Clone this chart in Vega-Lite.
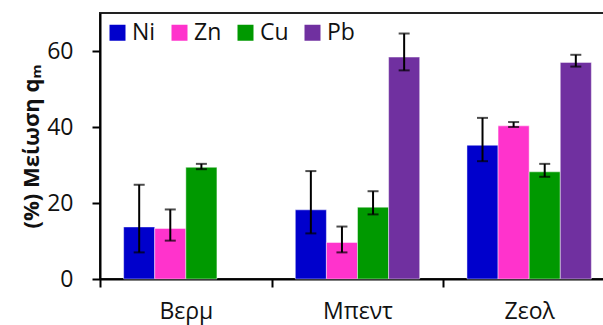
{
  "$schema": "https://vega.github.io/schema/vega-lite/v6.json",
  "width": 515,
  "height": 266,
  "autosize": {"type": "none"},
  "padding": {"left": 100, "top": 13, "right": 0, "bottom": 46},
  "background": "white",
  "config": {
    "font": "Open Sans",
    "view": {"stroke": "#222", "strokeWidth": 2},
    "axis": {"domainColor": "#000", "tickColor": "#000", "labelColor": "#111", "titleColor": "#111", "grid": false}
  },
  "data": {
    "values": [
      {"cat": "Βερμ", "metal": "Ni", "v": 13.7, "lo": 7.0, "hi": 24.8},
      {"cat": "Βερμ", "metal": "Zn", "v": 13.3, "lo": 10.1, "hi": 18.3},
      {"cat": "Βερμ", "metal": "Cu", "v": 29.4, "lo": 28.9, "hi": 30.3},
      {"cat": "Μπεντ", "metal": "Ni", "v": 18.2, "lo": 12.0, "hi": 28.4},
      {"cat": "Μπεντ", "metal": "Zn", "v": 9.6, "lo": 7.0, "hi": 13.8},
      {"cat": "Μπεντ", "metal": "Cu", "v": 18.9, "lo": 17.0, "hi": 23.1},
      {"cat": "Μπεντ", "metal": "Pb", "v": 58.4, "lo": 54.9, "hi": 64.6},
      {"cat": "Ζεολ", "metal": "Ni", "v": 35.2, "lo": 31.0, "hi": 42.4},
      {"cat": "Ζεολ", "metal": "Zn", "v": 40.3, "lo": 40.0, "hi": 41.3},
      {"cat": "Ζεολ", "metal": "Cu", "v": 28.2, "lo": 26.9, "hi": 30.3},
      {"cat": "Ζεολ", "metal": "Pb", "v": 57.0, "lo": 55.9, "hi": 59.0}
    ]
  },
  "encoding": {
    "x": {
      "field": "cat", "type": "nominal", "sort": ["Βερμ", "Μπεντ", "Ζεολ"],
      "scale": {"paddingInner": 0, "paddingOuter": 0},
      "axis": {"title": null, "labelAngle": 0, "labelFontSize": 23, "labelPadding": 13, "tickBand": "extent", "tickSize": 8, "tickWidth": 2, "domainWidth": 2}
    },
    "xOffset": {
      "field": "metal", "type": "nominal",
      "scale": {"domain": ["Ni", "Zn", "Cu", "Pb"], "paddingInner": 0, "paddingOuter": 0.76}
    }
  },
  "layer": [
    {
      "mark": {"type": "bar", "stroke": "white", "strokeOpacity": 0.45, "strokeWidth": 1},
      "encoding": {
        "y": {
          "field": "v", "type": "quantitative",
          "scale": {"domain": [0, 70], "nice": false},
          "axis": {"values": [0, 20, 40, 60], "labelFontSize": 23, "tickSize": 8, "tickWidth": 2, "domainWidth": 2, "labelPadding": 19,
                   "title": "(%) Μείωση qₘ", "titleFontSize": 22, "titleFontWeight": "bold", "titlePadding": 3}
        },
        "color": {
          "field": "metal", "type": "nominal",
          "scale": {"domain": ["Ni", "Zn", "Cu", "Pb"], "range": ["#0000CC", "#FF33CC", "#009900", "#7030A0"]},
          "legend": {"title": null, "orient": "none", "legendX": 6, "legendY": 8, "direction": "horizontal",
                     "symbolType": "square", "symbolSize": 256, "symbolStrokeWidth": 0, "labelFontSize": 23, "labelColor": "#111",
                     "labelOffset": 3, "columnPadding": 12}
        }
      }
    },
    {
      "mark": {"type": "rule", "color": "#000", "strokeWidth": 2},
      "encoding": {"y": {"field": "lo", "type": "quantitative"}, "y2": {"field": "hi"}}
    },
    {
      "mark": {"type": "tick", "color": "#000", "thickness": 2, "size": 11},
      "encoding": {"y": {"field": "lo", "type": "quantitative"}}
    },
    {
      "mark": {"type": "tick", "color": "#000", "thickness": 2, "size": 11},
      "encoding": {"y": {"field": "hi", "type": "quantitative"}}
    }
  ]
}
